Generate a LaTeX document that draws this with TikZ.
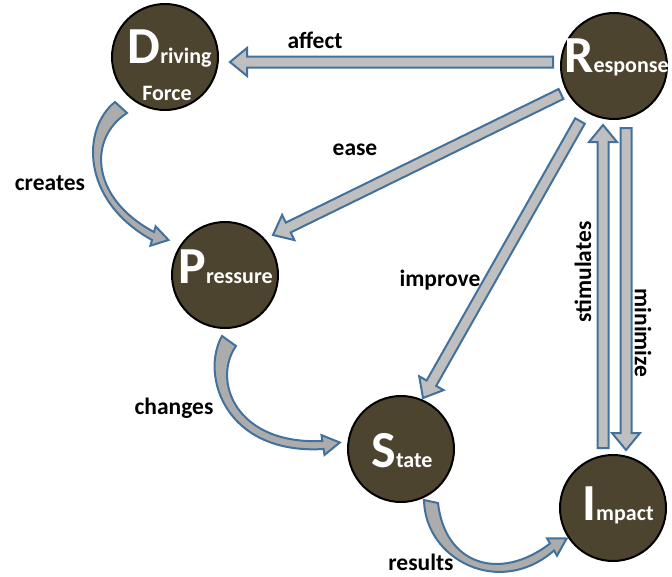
\documentclass[tikz,border=0pt]{standalone}
\usepackage{fontspec}
\setmainfont{Carlito}
\usetikzlibrary{calc}

\definecolor{nodefill}{RGB}{76,68,46}
\definecolor{arrowline}{RGB}{65,113,156}
\definecolor{arrowfill}{RGB}{191,191,191}
\definecolor{curvefill}{RGB}{172,172,172}

\tikzset{
  dpsir/.style={circle, fill=nodefill, draw=black, line width=2pt,
    minimum size=106pt, inner sep=0pt},
  nametext/.style={text=white, font=\bfseries, anchor=base, inner sep=0pt},
  rel/.style={font=\bfseries\fontsize{23.5}{28}\selectfont, text=black, inner sep=0pt},
  barrow/.style={fill=arrowfill, draw=arrowline, line width=2pt, line join=miter},
  carrow/.style={fill=curvefill, draw=arrowline, line width=2pt, line join=miter},
}

% capital initial followed by the rest of the word in smaller type
\newcommand\capword[2]{{\fontsize{52}{52}\selectfont #1}{\fontsize{22}{22}\selectfont #2}}

% straight block arrow from tail coordinate #1 to tip coordinate #2
\newcommand\blockarrow[2]{%
  \coordinate (hb) at ($(#2)!17pt!(#1)$);
  \draw[barrow] ($(#1)!5.5pt!90:(#2)$) -- ($(hb)!5.5pt!90:(#2)$)
    -- ($(hb)!14pt!90:(#2)$) -- (#2) -- ($(hb)!14pt!-90:(#2)$)
    -- ($(hb)!5.5pt!-90:(#2)$) -- ($(#1)!5.5pt!-90:(#2)$) -- cycle;
}

\begin{document}
\begin{tikzpicture}[x=1pt,y=-1pt]
\useasboundingbox (0,0) rectangle (672,576);

% the five DPSIR stages
\node[dpsir] (D) at (165,57) {};
\node[dpsir] (R) at (614,66) {};
\node[dpsir] (P) at (225,275) {};
\node[dpsir] (S) at (401,449) {};
\node[dpsir] (I) at (613,508) {};

\node[nametext] (Dt) at ($(D)+(4.5,6)$) {\capword{D}{riving}};
\node[nametext, font=\bfseries\fontsize{22}{22}\selectfont] (Df) at ($(D)+(2,43)$) {Force};
\node[nametext] (Rt) at ($(R)+(2.5,6)$) {\capword{R}{esponse}};
\node[nametext] (Pt) at ($(P)+(0.5,8)$) {\capword{P}{ressure}};
\node[nametext] (St) at ($(S)+(1,18)$) {\capword{S}{tate}};
\node[nametext] (It) at ($(I)+(5,12)$) {\capword{I}{mpact}};

% end points of the straight arrows
\coordinate (affectA) at ($(R)+(-61,-4)$);
\coordinate (affectB) at ($(D)+(65,5)$);
\coordinate (easeA) at ($(R)+(-53,28)$);
\coordinate (easeB) at ($(P)+(48,-40)$);
\coordinate (improveA) at ($(R)+(-34,55)$);
\coordinate (improveB) at ($(S)+(22,-51)$);
\coordinate (stimA) at ($(I)+(-10,-60)$);
\coordinate (stimB) at ($(R)+(-11,59)$);
\coordinate (minA) at ($(R)+(12,62)$);
\coordinate (minB) at ($(I)+(13,-58)$);

\blockarrow{affectA}{affectB}
\blockarrow{easeA}{easeB}
\blockarrow{improveA}{improveB}
\blockarrow{stimA}{stimB}
\blockarrow{minA}{minB}

% curved arrows between consecutive stages
\begin{scope}[shift={(D)}]
  \draw[carrow] (-50,45) .. controls (-83,71) and (-85,143) .. (-13,183)
    -- (-14.6,188.7) -- (3.5,183) -- (-9.4,169.3) -- (-11,175)
    .. controls (-75,141) and (-77,81) .. (-38,56) -- cycle;
\end{scope}
\begin{scope}[shift={(P)}]
  \draw[carrow] (-3,61) .. controls (-25,100) and (0,180) .. (98.6,174)
    -- (99.5,179.9) -- (114.8,167.5) -- (96.5,160.1) -- (97.4,166)
    .. controls (10,170) and (-13,105) .. (11,71) -- cycle;
\end{scope}
\begin{scope}[shift={(S)}]
  \draw[carrow] (23,51) .. controls (24,111) and (99,149) .. (153,101.5)
    -- (156,106.7) -- (165.7,89.5) -- (146,89.3) -- (149,94.5)
    .. controls (99,133) and (44,116) .. (37,54) -- cycle;
\end{scope}

% relation labels
\node[rel] (laffect) at (315,40) {affect};
\node[rel] (lease) at (355,150) {ease};
\node[rel] (lcreates) at (50,183) {creates};
\node[rel] (lchanges) at (174,408) {changes};
\node[rel] (limprove) at (440,280) {improve};
\node[rel] (lresults) at (421,562) {results};
\node[rel, rotate=90] (lstim) at (583,272) {stimulates};
\node[rel, rotate=-90] (lmin) at (643,333) {minimize};
\end{tikzpicture}
\end{document}
